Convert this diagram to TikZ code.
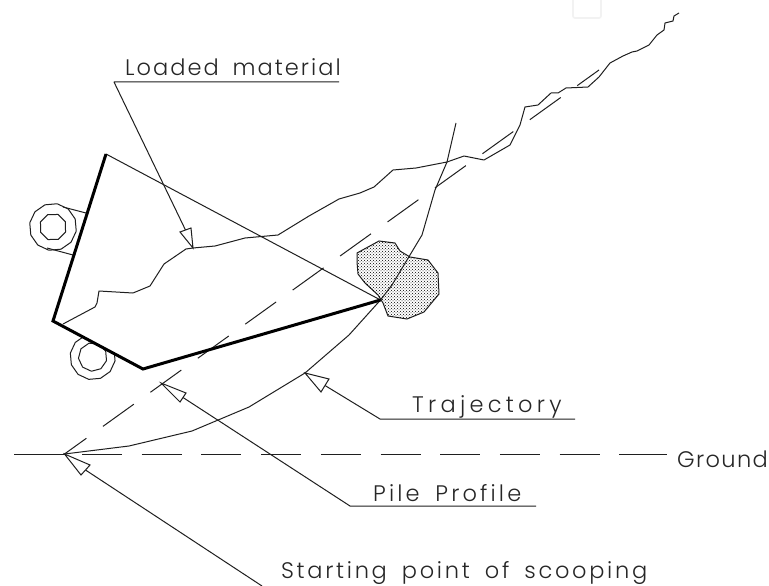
\documentclass[tikz,border=0pt]{standalone}
\usepackage{fontspec}
\newfontfamily\cadfont[WordSpace=1.7,UprightFont=* Light]{Poppins}
\newcommand{\spaced}[1]{\addfontfeature{LetterSpace=#1}}
\usetikzlibrary{patterns}
\tikzset{
  thinline/.style={line width=1pt,line join=round,color=black!88},
  thickline/.style={line width=3pt,line join=miter,color=black},
  label/.style={inner sep=0pt,anchor=base west,font=\cadfont\fontsize{22.5}{25}\selectfont,text=black!85},
  openhead/.style={line width=1pt,line join=miter,fill=white,draw=black!88},
  dashline/.style={line width=1pt,color=black!88},
}
\begin{document}
\begin{tikzpicture}[x=1pt,y=-1pt]
\useasboundingbox (0,0) rectangle (769,586);
\fill[white] (0,0) rectangle (769,586);
% faint artefact at the top
\draw[line width=1.6pt,color=black!5,rounded corners=2pt] (573,-2) -- (573,18) -- (601,18) -- (601,-2);
% key points
\coordinate (start) at (64.5,454);
\coordinate (tip) at (380.5,300);
\coordinate (top) at (106,154);
\coordinate (bl) at (53,321);
\coordinate (bot) at (143,369);
% rock
\path[draw=black!88,line width=1pt,fill=white] (357,253)--(379,241)--(395,243)--(400,251)--(410,257)--(428,260)--(438,273)--(439,294)--(424,312)--(407,319)--(388,316)--(383,303)--(378,295)--(365,283)--(358,274)--(357,262)--cycle;
\path[pattern=crosshatch dots,pattern color=black] (357,253)--(379,241)--(395,243)--(400,251)--(410,257)--(428,260)--(438,273)--(439,294)--(424,312)--(407,319)--(388,316)--(383,303)--(378,295)--(365,283)--(358,274)--(357,262)--cycle;
% wheels
\draw[thinline] plot[samples=13,domain=10:370] ({53+23.6*cos(\x)},{227+23.6*sin(\x)}) -- cycle;
\draw[thinline] plot[samples=9,domain=22:382] ({53+13.5*cos(\x)},{227+13.5*sin(\x)}) -- cycle;
\draw[thinline] (63,207) -- (86,213);
\draw[thinline] (47,248) -- (73,255);
\begin{scope}
\clip (bl) -- (bot) -- (143,400) -- (53,400) -- cycle;
\draw[thinline] plot[samples=13,domain=10:370] ({92.7+22.7*cos(\x)},{357+22.7*sin(\x)}) -- cycle;
\draw[thinline] plot[samples=10,domain=15:375] ({92.7+14.3*cos(\x)},{357+14.3*sin(\x)}) -- cycle;
\end{scope}
% ground line
\draw[dashline] (14,454) -- (start);
\draw[dashline,dash pattern=on 40pt off 19.7pt] (82,454) -- (601,454);
\draw[dashline] (619,454) -- (667,454);
% dashed chord
\draw[dashline,dash pattern=on 38pt off 20.4pt,dash phase=11pt] (start) -- (599,70);
% pile surface
\draw[thinline] (63,324)--(95,307)--(97,303)--(99,291)--(133,293)--(150,286)--(164,264)--(186,249)--(193,248)--(215,246)--(245,238)--(278,235)--(309,216)--(339,199)--(360,193)--(374,187)--(393,170)--(416,168)--(447,162)--(464,156)--(484,160)--(510,145)--(520,125)--(525,107)--(538,105)--(551,93)--(558,93)--(566,88)--(588,87)--(599,77)--(610,63)--(623,56)--(632,52)--(637,51)--(649,45)--(657,35)--(664,30)--(665,23)--(673,21)--(674,16)--(679,13);
% trajectory
\draw[thinline] (start)--(129,446)--(192,431)--(249,407)--(305,373)--(349,335)--(tip)--(392,285)--(407,260)--(422,235)--(435,190)--(447,162)--(456,123);
% bucket
\draw[thinline] (top) -- (tip);
\draw[thickline] (top) -- (bl) -- (bot) -- (tip);
% labels
\node[label] (loaded) at (125,76) {\spaced{9}Loaded material};
\node[label] (traj) at (412,412) {\spaced{19}Trajectory};
\node[label] (pile) at (373,501) {\spaced{14}Pile Profile};
\node[label] (ground) at (677,467) {\spaced{6}Ground};
\node[label] (scoop) at (281,578) {\spaced{12}Starting point of scooping};
% leaders
\coordinate (l1a) at (339,82); \coordinate (l1b) at (114,82); \coordinate (l1t) at (193,248);
\coordinate (l2a) at (575,419); \coordinate (l2b) at (380,419); \coordinate (l2t) at (305,373);
\coordinate (l3a) at (536,506); \coordinate (l3b) at (350,506); \coordinate (l3t) at (161,383);
\coordinate (l4b) at (262,586);
\draw[thinline] (l1a) -- (l1b) -- (185.5,230);
\draw[openhead] (l1t) -- (180,232) -- (191,228) -- cycle;
\draw[thinline] (l2a) -- (l2b) -- (325,385.5);
\draw[openhead] (l2t) -- (329,379) -- (321,392) -- cycle;
\draw[thinline] (l3a) -- (l3b) -- (183,397.5);
\draw[openhead] (l3t) -- (186,393) -- (180,402) -- cycle;
\draw[thinline] (l4b) -- (85.5,470);
\draw[openhead] (start) -- (90,465) -- (81,475) -- cycle;
\end{tikzpicture}
\end{document}
